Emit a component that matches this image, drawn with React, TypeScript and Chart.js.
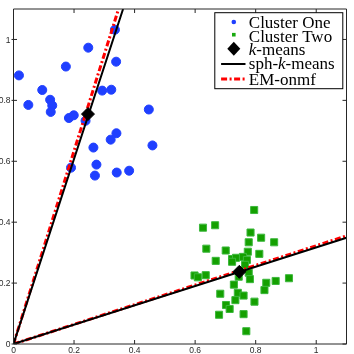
import React, { useEffect, useRef } from "react";
import { Chart, registerables } from "chart.js";

Chart.register(...registerables);

// ---- data ----
const clusterOneX = [0.018, 0.247, 0.335, 0.339, 0.173, 0.095, 0.049, 0.121, 0.128, 0.123, 0.293, 0.323, 0.447, 0.183, 0.199, 0.238, 0.340, 0.321, 0.264, 0.459, 0.274, 0.190, 0.382, 0.341, 0.269];
const clusterOneY = [0.882, 0.973, 1.032, 0.927, 0.911, 0.834, 0.785, 0.802, 0.783, 0.762, 0.832, 0.835, 0.770, 0.742, 0.751, 0.733, 0.692, 0.671, 0.645, 0.652, 0.589, 0.579, 0.569, 0.563, 0.553];

const clusterTwoX = [0.795, 0.626, 0.666, 0.783, 0.818, 0.777, 0.861, 0.637, 0.701, 0.774, 0.812, 0.668, 0.722, 0.735, 0.758, 0.771, 0.722, 0.765, 0.598, 0.609, 0.635, 0.777, 0.781, 0.744, 0.910, 0.866, 0.835, 0.728, 0.829, 0.683, 0.741, 0.760, 0.733, 0.796, 0.702, 0.714, 0.679, 0.760, 0.769];
const clusterTwoY = [0.440, 0.382, 0.390, 0.366, 0.349, 0.334, 0.334, 0.313, 0.307, 0.303, 0.296, 0.273, 0.279, 0.283, 0.286, 0.276, 0.270, 0.260, 0.225, 0.219, 0.226, 0.234, 0.213, 0.221, 0.216, 0.207, 0.201, 0.195, 0.177, 0.165, 0.168, 0.159, 0.144, 0.139, 0.128, 0.115, 0.096, 0.098, 0.042];

const kMeansX = [0.246, 0.746];
const kMeansY = [0.755, 0.237];

// lines start at the origin and run to these end points
const sphEndX = [0.362, 1.1];
const sphEndY = [1.1, 0.349];
const emEndX = [0.347, 1.1];
const emEndY = [1.1, 0.355];

const tickValues = [0, 0.2, 0.4, 0.6, 0.8, 1];
const tickLabels = ["0", "0.2", "0.4", "0.6", "0.8", "1"];
const legendLabels = ["Cluster One", "Cluster Two", "k-means", "sph-k-means", "EM-onmf"];

const BLUE = "#1f3fff";
const GREEN = "#14a000";
const RED = "#ff0000";

const toPoints = (xs: number[], ys: number[]) => xs.map((x, i) => ({ x, y: ys[i] }));
const rays = (xs: number[], ys: number[]) => {
  const out: any[] = [];
  xs.forEach((x, i) => {
    if (i > 0) out.push({ x: 0, y: null });
    out.push({ x: 0, y: 0 });
    out.push({ x, y: ys[i] });
  });
  return out;
};

const SERIF = '"Liberation Serif", "Times New Roman", serif';
const SANS = '"Liberation Sans", Arial, sans-serif';

function drawLegend(chart: any) {
  const { ctx, chartArea: a } = chart;
  const w = 128, h = 76;
  const left = a.right - 3.7 - w;
  const top = a.top + 3.7;
  ctx.save();
  ctx.fillStyle = "#fff";
  ctx.fillRect(left, top, w, h);
  ctx.strokeStyle = "#000";
  ctx.lineWidth = 1;
  ctx.strokeRect(left, top, w, h);

  const mx = left + 19;
  const markerY = [9.3, 22, 36, 51.3, 66.3];
  const baseY = [15.3, 29.3, 42.3, 56.3, 71.8];
  ctx.fillStyle = BLUE;
  ctx.beginPath();
  ctx.arc(mx, top + markerY[0], 2.3, 0, Math.PI * 2);
  ctx.fill();
  ctx.fillStyle = "#1aaa10";
  ctx.fillRect(mx - 1.8, top + markerY[1] - 1.8, 3.6, 3.6);
  ctx.fillStyle = "#000";
  ctx.beginPath();
  const dy = top + markerY[2];
  ctx.moveTo(mx - 6.5, dy);
  ctx.lineTo(mx, dy - 7);
  ctx.lineTo(mx + 6.5, dy);
  ctx.lineTo(mx, dy + 7);
  ctx.closePath();
  ctx.fill();
  ctx.strokeStyle = "#000";
  ctx.lineWidth = 2;
  ctx.beginPath();
  ctx.moveTo(left + 6.3, top + markerY[3]);
  ctx.lineTo(left + 30.7, top + markerY[3]);
  ctx.stroke();
  ctx.strokeStyle = RED;
  ctx.lineWidth = 3;
  ctx.setLineDash([6, 2.5, 2, 2.5]);
  ctx.beginPath();
  ctx.moveTo(left + 6.3, top + markerY[4]);
  ctx.lineTo(left + 30.7, top + markerY[4]);
  ctx.stroke();
  ctx.setLineDash([]);

  const tx = left + 34;
  const normal = `17px ${SERIF}`;
  const italic = `italic 17px ${SERIF}`;
  ctx.fillStyle = "#000";
  ctx.textBaseline = "alphabetic";
  ctx.textAlign = "left";
  const drawParts = (parts: [string, boolean][], y: number) => {
    let x = tx;
    for (const [s, it] of parts) {
      ctx.font = it ? italic : normal;
      ctx.fillText(s, x, y);
      x += ctx.measureText(s).width;
    }
  };
  drawParts([[legendLabels[0], false]], top + baseY[0]);
  drawParts([[legendLabels[1], false]], top + baseY[1]);
  drawParts([["k", true], ["-means", false]], top + baseY[2]);
  drawParts([["sph-", false], ["k", true], ["-means", false]], top + baseY[3]);
  drawParts([[legendLabels[4], false]], top + baseY[4]);
  ctx.restore();
}

// MATLAB-style box with inward ticks and tick labels, placed through the chart's scales
const framePlugin = {
  id: "matlabFrame",
  afterDatasetsDraw(chart: any) {
    const { ctx, chartArea: a, scales } = chart;
    ctx.save();
    ctx.strokeStyle = "#262626";
    ctx.lineWidth = 1;
    ctx.beginPath();
    ctx.rect(a.left, a.top, a.right - a.left, a.bottom - a.top);
    const t = 4;
    for (const v of tickValues) {
      const px = scales.x.getPixelForValue(v);
      ctx.moveTo(px, a.bottom);
      ctx.lineTo(px, a.bottom - t);
      ctx.moveTo(px, a.top);
      ctx.lineTo(px, a.top + t);
      const py = scales.y.getPixelForValue(v);
      ctx.moveTo(a.left - 2, py);
      ctx.lineTo(a.left + 3.5, py);
      ctx.moveTo(a.right, py);
      ctx.lineTo(a.right - t, py);
    }
    ctx.stroke();

    ctx.fillStyle = "#2a2a2a";
    ctx.font = `8.5px ${SANS}`;
    tickValues.forEach((v, i) => {
      const px = scales.x.getPixelForValue(v);
      ctx.textAlign = "center";
      ctx.textBaseline = "alphabetic";
      ctx.fillText(tickLabels[i], px, a.bottom + 8.8);
      const py = scales.y.getPixelForValue(v);
      ctx.textAlign = "right";
      ctx.fillText(tickLabels[i], a.left - 3, py + 3.1);
    });
    ctx.restore();
    drawLegend(chart);
  },
};

const SHIFT_X = 20;
const CANVAS_W = 374;
const CANVAS_H = 364;

export default function App() {
  const ref = useRef<HTMLCanvasElement | null>(null);

  useEffect(() => {
    if (!ref.current) return;
    const chart = new Chart(ref.current, {
      type: "scatter",
      data: {
        datasets: [
          {
            label: legendLabels[0],
            data: toPoints(clusterOneX, clusterOneY),
            pointStyle: "circle",
            pointRadius: 4.5,
            pointBorderWidth: 1,
            backgroundColor: BLUE,
            borderColor: BLUE,
            order: 5,
          },
          {
            label: legendLabels[1],
            data: toPoints(clusterTwoX, clusterTwoY),
            pointStyle: "rect",
            pointRadius: 5,
            pointBorderWidth: 1,
            backgroundColor: GREEN,
            borderColor: "#3cb83c",
            order: 4,
          },
          {
            label: legendLabels[2],
            data: toPoints(kMeansX, kMeansY),
            pointStyle: "rectRot",
            pointRadius: 6.5,
            pointBorderWidth: 1,
            backgroundColor: "#000",
            borderColor: "#000",
            order: 0,
          },
          {
            label: legendLabels[3],
            data: rays(sphEndX, sphEndY),
            showLine: true,
            spanGaps: false,
            pointRadius: 0,
            borderColor: "#000",
            borderWidth: 2,
            order: 1,
          },
          {
            label: legendLabels[4],
            data: rays(emEndX, emEndY),
            showLine: true,
            spanGaps: false,
            pointRadius: 0,
            borderColor: RED,
            borderWidth: 3,
            borderDash: [6, 2.5, 2, 2.5],
            order: 2,
          },
        ] as any,
      },
      options: {
        animation: false,
        responsive: false,
        layout: { padding: { top: 9, right: CANVAS_W - (348 + SHIFT_X), bottom: 0, left: 0 } },
        plugins: { legend: { display: false }, tooltip: { enabled: false } },
        scales: {
          x: {
            type: "linear",
            position: "bottom",
            min: 0,
            max: 1.1,
            grid: { display: false },
            border: { display: false },
            ticks: { display: false },
            afterFit: (s: any) => {
              s.height = CANVAS_H - 344;
            },
          },
          y: {
            type: "linear",
            position: "left",
            min: 0,
            max: 1.1,
            grid: { display: false },
            border: { display: false },
            ticks: { display: false },
            afterFit: (s: any) => {
              s.width = SHIFT_X + 13.5;
            },
          },
        },
      } as any,
      plugins: [framePlugin],
    });
    return () => chart.destroy();
  }, []);

  return (
    <div
      style={{
        position: "fixed",
        left: 0,
        top: 0,
        width: 354,
        height: 354,
        overflow: "hidden",
        background: "#fff",
      }}
    >
      <canvas
        ref={ref}
        width={CANVAS_W}
        height={CANVAS_H}
        style={{ position: "absolute", left: -SHIFT_X, top: 0, width: CANVAS_W, height: CANVAS_H }}
      />
    </div>
  );
}
